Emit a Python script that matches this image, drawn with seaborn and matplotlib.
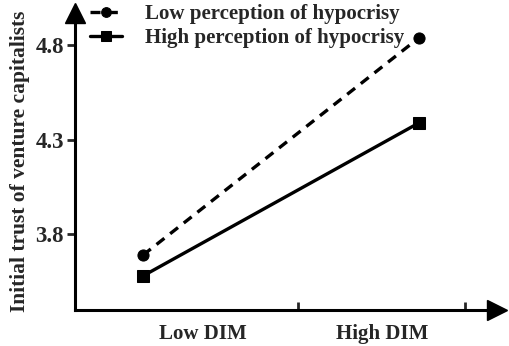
import matplotlib
matplotlib.use("Agg")
import matplotlib.pyplot as plt
import seaborn as sns
import pandas as pd

# data
conditions = ["Low DIM", "High DIM"]
groups = ["Low perception of hypocrisy", "High perception of hypocrisy"]
low_perception = [3.69, 4.84]
high_perception = [3.58, 4.39]
y_ticks = [3.8, 4.3, 4.8]
ylabel = "Initial trust of venture capitalists"

df = pd.DataFrame({
    "x": [0, 1, 0, 1],
    "y": low_perception + high_perception,
    "group": [groups[0]] * 2 + [groups[1]] * 2,
})

sns.set_style("white")
plt.rcParams["font.family"] = ["Liberation Serif", "DejaVu Serif"]
plt.rcParams["font.weight"] = "bold"

fig = plt.figure(figsize=(5.10, 3.46), dpi=100)
ax = fig.add_axes([0.147, 0.104, 0.828, 0.858])

sns.lineplot(data=df, x="x", y="y", style="group", ax=ax, color="black",
             markers={groups[0]: "o", groups[1]: "s"},
             dashes={groups[0]: (3, 2.2), groups[1]: ""},
             markersize=8, linewidth=2.4, markeredgecolor="black")

ax.set_xlim(-0.246, 1.283)
ax.set_ylim(3.4, 4.97)

for s in ["top", "right"]:
    ax.spines[s].set_visible(False)
for s in ["left", "bottom"]:
    ax.spines[s].set_linewidth(2.2)
    ax.spines[s].set_color("black")

# arrow heads
ax.plot(1, 0, ">", color="black", markersize=15, transform=ax.transAxes, clip_on=False)
ax.plot(0, 1, "^", color="black", markersize=15, transform=ax.transAxes, clip_on=False)

ax.set_yticks(y_ticks)
ax.set_yticklabels([f"{v:.1f}" for v in y_ticks])
ax.tick_params(axis="y", direction="out", length=6, width=2, labelsize=16.5, pad=2, left=True)

ax.set_xticks([0.217, 0.866])
ax.set_xticklabels(conditions)
ax.set_xticks([0.56, 1.167], minor=True)
ax.tick_params(axis="x", which="major", length=0, labelsize=15, pad=10)
ax.tick_params(axis="x", which="minor", direction="in", length=6, width=2, bottom=True)

ax.set_xlabel("")
ax.set_ylabel(ylabel, fontsize=15.5, fontweight="bold", labelpad=4)

leg = ax.legend(loc="upper left", bbox_to_anchor=(0.012, 1.065), frameon=False,
                handlelength=1.5, handletextpad=1.1, labelspacing=0.17,
                borderpad=0, prop={"weight": "bold", "size": 15})
for h in leg.legend_handles:
    h.set_markersize(7)

fig.savefig("out.png", dpi=100)
